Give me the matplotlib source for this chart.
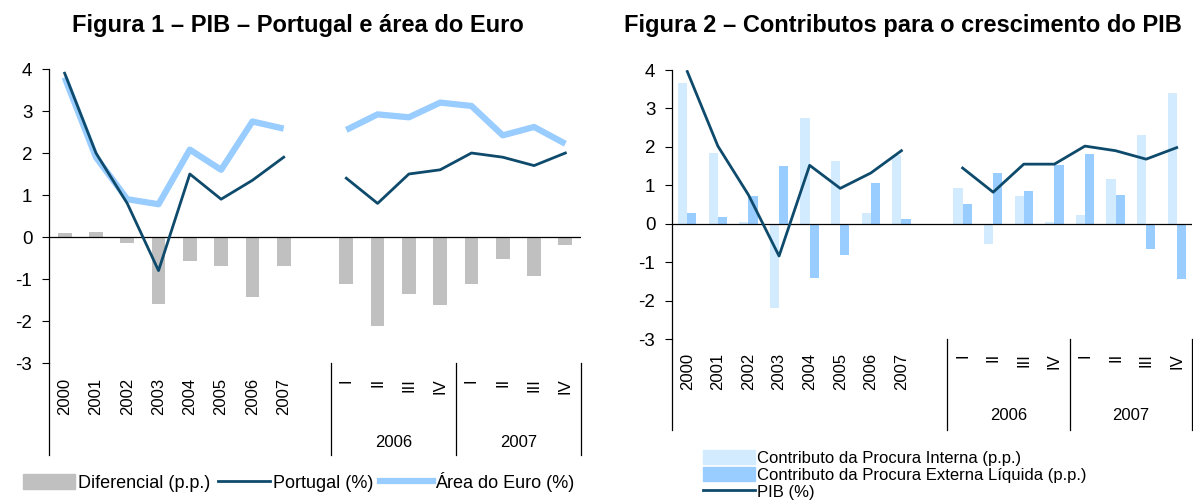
import numpy as np
import matplotlib
matplotlib.use("Agg")
import matplotlib.pyplot as plt
from matplotlib.patches import Patch
from matplotlib.lines import Line2D

plt.rcParams['font.family'] = ['Liberation Sans', 'DejaVu Sans']
plt.rcParams['axes.unicode_minus'] = False

years = ['2000', '2001', '2002', '2003', '2004', '2005', '2006', '2007']
quarters = ['I', 'II', 'III', 'IV', 'I', 'II', 'III', 'IV']
quarter_years = ['2006', '2007']

# Figura 1
diferencial = [0.10, 0.12, -0.15, -1.60, -0.57, -0.68, -1.42, -0.68,
               -1.13, -2.13, -1.35, -1.62, -1.13, -0.52, -0.92, -0.20]
portugal = [3.9, 2.0, 0.8, -0.8, 1.5, 0.9, 1.35, 1.9,
            1.4, 0.8, 1.5, 1.6, 2.0, 1.9, 1.7, 2.0]
euro = [3.8, 1.9, 0.9, 0.78, 2.08, 1.6, 2.75, 2.58,
        2.55, 2.92, 2.85, 3.2, 3.12, 2.42, 2.62, 2.22]

# Figura 2
interna = [3.66, 1.85, 0.05, -2.2, 2.76, 1.62, 0.29, 1.8,
           0.93, -0.52, 0.72, 0.05, 0.22, 1.16, 2.32, 3.39]
externa = [0.27, 0.18, 0.72, 1.49, -1.41, -0.82, 1.05, 0.12,
           0.51, 1.33, 0.84, 1.52, 1.82, 0.75, -0.65, -1.43]
pib = [3.96, 2.02, 0.75, -0.84, 1.52, 0.92, 1.32, 1.9,
       1.45, 0.82, 1.55, 1.55, 2.02, 1.9, 1.68, 1.98]

# slot positions: 8 annual, one empty slot, 8 quarters
xa = np.arange(8)
xq = np.arange(9, 17)
xall = np.concatenate([xa, xq])
xl = np.arange(17)

navy = '#0E4A6B'
light = '#99CCFF'
pale = '#D2EBFF'
grey = '#C0C0C0'


def split_line(vals):
    return list(vals[:8]) + [np.nan] + list(vals[8:])


def dress_axis(ax, label_y, group_y, extend):
    ax.set_xlim(-0.5, 16.5)
    ax.set_ylim(-3, 4)
    ax.set_yticks(range(-3, 5))
    ax.tick_params(axis='y', labelsize=13.5, length=5, direction='out', pad=7)
    ax.tick_params(axis='x', bottom=False, labelbottom=False)
    for s in ['top', 'right', 'bottom']:
        ax.spines[s].set_visible(False)
    ax.spines['left'].set_linewidth(0.9)
    ax.axhline(0, color='black', lw=0.9)
    tr = ax.get_xaxis_transform()
    ax.plot([-0.5, -0.5], [0, extend], color='black', lw=0.9,
            transform=tr, clip_on=False)
    for xs in [8.5, 12.5, 16.5]:
        ax.plot([xs, xs], [0, extend], color='black', lw=0.9,
                transform=tr, clip_on=False)
    for x, lab in zip(xa, years):
        ax.text(x, label_y, lab, rotation=90, ha='center', va='top',
                fontsize=12, transform=tr)
    for x, lab in zip(xq, quarters):
        ax.text(x, label_y, lab, rotation=90, ha='center', va='top',
                fontsize=12, transform=tr)
    ax.text(10.5, group_y, quarter_years[0], ha='center', va='center',
            fontsize=12, transform=tr)
    ax.text(14.5, group_y, quarter_years[1], ha='center', va='center',
            fontsize=12, transform=tr)


fig = plt.figure(figsize=(11.93, 5.0), dpi=100)

# Figura 1
ax1 = fig.add_axes([49 / 1193, 1 - 363 / 500, 532 / 1193, 294 / 500])
ax1.bar(xall, diferencial, width=0.44, color=grey, zorder=2)
ax1.plot(xl, split_line(euro), color=light, lw=4.5, zorder=3,
         solid_capstyle='butt')
ax1.plot(xl, split_line(portugal), color=navy, lw=2, zorder=4)
dress_axis(ax1, -0.051, -0.272, -0.313)
fig.text(298 / 1193, 1 - 32 / 500, 'Figura 1 – PIB – Portugal e área do Euro',
         fontsize=17, fontweight='bold', ha='center', va='baseline')

h1 = [Patch(color=grey), Line2D([], [], color=navy, lw=2),
      Line2D([], [], color=light, lw=4.5)]
fig.legend(h1, ['Diferencial (p.p.)', 'Portugal (%)', 'Área do Euro (%)'],
           loc='center left', bbox_to_anchor=(23 / 1193, 1 - 482 / 500),
           ncol=3, frameon=False, fontsize=13, handlelength=2.9,
           handletextpad=0.15, columnspacing=0.4, handleheight=0.9,
           borderpad=0, borderaxespad=0)

# Figura 2
ax2 = fig.add_axes([672 / 1193, 1 - 339 / 500, 520 / 1193, 269 / 500])
w = 0.3
ax2.bar(xall - w / 2, interna, width=w, color=pale, zorder=2)
ax2.bar(xall + w / 2, externa, width=w, color=light, zorder=2)
ax2.plot(xl, split_line(pib), color=navy, lw=2, zorder=4)
dress_axis(ax2, -0.052, -0.283, -0.338)
fig.text(903 / 1193, 1 - 32 / 500,
         'Figura 2 – Contributos para o crescimento do PIB',
         fontsize=17, fontweight='bold', ha='center', va='baseline')

h2 = [Patch(color=pale), Patch(color=light), Line2D([], [], color=navy, lw=2)]
fig.legend(h2, ['Contributo da Procura Interna (p.p.)',
                'Contributo da Procura Externa Líquida (p.p.)', 'PIB (%)'],
           loc='upper left', bbox_to_anchor=(703 / 1193, 1 - 450 / 500),
           frameon=False, fontsize=12, handlelength=3.1,
           handletextpad=0.15, labelspacing=0.08, handleheight=0.9,
           borderpad=0, borderaxespad=0)

fig.savefig('out.png', dpi=100)
